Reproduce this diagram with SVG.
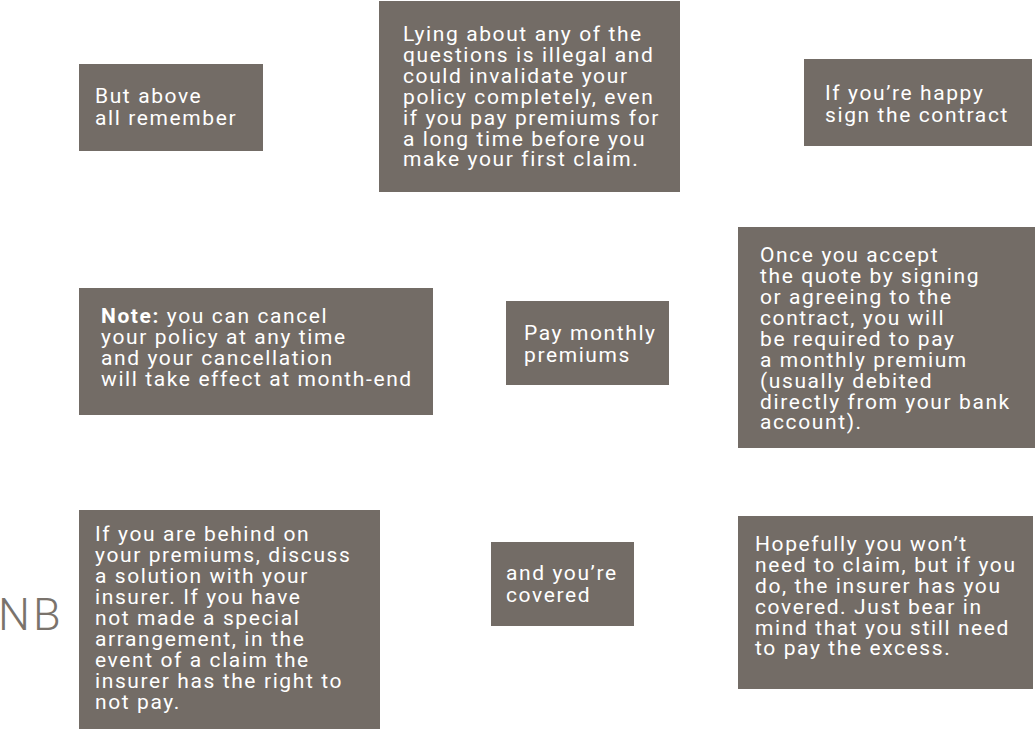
<svg xmlns="http://www.w3.org/2000/svg" width="1035" height="730" viewBox="0 0 1035 730">
<style>
.box{fill:#736c66}
.t{font-family:Roboto,"Liberation Sans",sans-serif;font-size:21px;fill:#ffffff;letter-spacing:1.6px}
.b{font-weight:bold}
.nb{font-family:Roboto,"Liberation Sans",sans-serif;font-size:45px;font-weight:300;fill:#7a736c;letter-spacing:3px}
</style>
<rect width="1035" height="730" fill="#ffffff"/>
<g id="connectors"></g>
<g id="n1"><rect class="box" x="79" y="64" width="184" height="87"/>
<text class="t" x="95" y="103">But above</text><text class="t" x="95" y="125">all remember</text></g>
<g id="n2"><rect class="box" x="379" y="1" width="301" height="191"/>
<text class="t" x="403" y="41">Lying about any of the</text>
<text class="t" x="403" y="62">questions is illegal and</text>
<text class="t" x="403" y="83">could invalidate your</text>
<text class="t" x="403" y="104">policy completely, even</text>
<text class="t" x="403" y="125">if you pay premiums for</text>
<text class="t" x="403" y="146">a long time before you</text>
<text class="t" x="403" y="166">make your first claim.</text></g>
<g id="n3"><rect class="box" x="804" y="59" width="228" height="87"/>
<text class="t" x="825" y="100">If you’re happy</text><text class="t" x="825" y="122">sign the contract</text></g>
<g id="n4"><rect class="box" x="79" y="288" width="354" height="127"/>
<text class="t" x="101" y="323"><tspan class="b">Note:</tspan> you can cancel</text>
<text class="t" x="101" y="344">your policy at any time</text>
<text class="t" x="101" y="365">and your cancellation</text>
<text class="t" x="101" y="386">will take effect at month-end</text></g>
<g id="n5"><rect class="box" x="506" y="301" width="163" height="84"/>
<text class="t" x="524" y="340">Pay monthly</text><text class="t" x="524" y="362">premiums</text></g>
<g id="n6"><rect class="box" x="738" y="227" width="297" height="221"/>
<text class="t" x="760" y="262">Once you accept</text>
<text class="t" x="760" y="283">the quote by signing</text>
<text class="t" x="760" y="304">or agreeing to the</text>
<text class="t" x="760" y="325">contract, you will</text>
<text class="t" x="760" y="346">be required to pay</text>
<text class="t" x="760" y="367">a monthly premium</text>
<text class="t" x="760" y="388">(usually debited</text>
<text class="t" x="760" y="409">directly from your bank</text>
<text class="t" x="760" y="429">account).</text></g>
<g id="n7"><rect class="box" x="79" y="510" width="301" height="219"/>
<text class="t" x="95" y="541">If you are behind on</text>
<text class="t" x="95" y="562">your premiums, discuss</text>
<text class="t" x="95" y="583">a solution with your</text>
<text class="t" x="95" y="604">insurer. If you have</text>
<text class="t" x="95" y="625">not made a special</text>
<text class="t" x="95" y="646">arrangement, in the</text>
<text class="t" x="95" y="667">event of a claim the</text>
<text class="t" x="95" y="688">insurer has the right to</text>
<text class="t" x="95" y="709">not pay.</text></g>
<g id="n8"><rect class="box" x="491" y="542" width="143" height="84"/>
<text class="t" x="506" y="580">and you’re</text><text class="t" x="506" y="602">covered</text></g>
<g id="n9"><rect class="box" x="738" y="516" width="295" height="173"/>
<text class="t" x="755" y="551">Hopefully you won’t</text>
<text class="t" x="755" y="572">need to claim, but if you</text>
<text class="t" x="755" y="593">do, the insurer has you</text>
<text class="t" x="755" y="614">covered. Just bear in</text>
<text class="t" x="755" y="635">mind that you still need</text>
<text class="t" x="755" y="655">to pay the excess.</text></g>
<g id="nb"><text class="nb" x="-2" y="630">NB</text></g>
</svg>
